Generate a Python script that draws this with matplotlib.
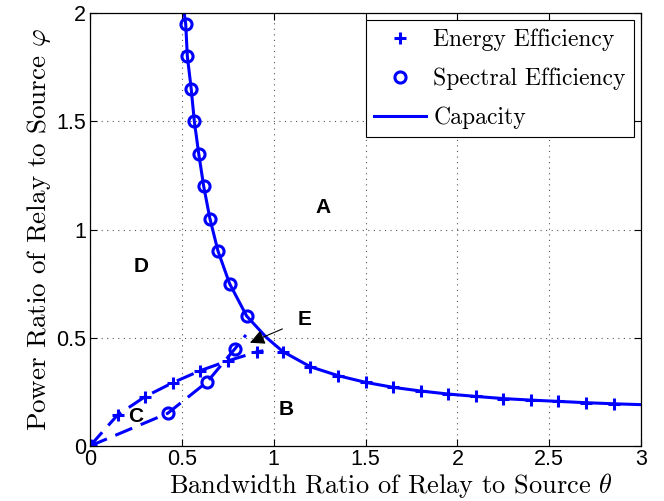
import numpy as np
import matplotlib
matplotlib.use('Agg')
import matplotlib.pyplot as plt

plt.rcParams['mathtext.fontset'] = 'cm'

# capacity boundary, upper branch (circle markers)
cap_up_theta = [0.521, 0.530, 0.551, 0.568, 0.592, 0.619, 0.653, 0.697, 0.760, 0.853]
cap_up_phi = [1.95, 1.80, 1.65, 1.50, 1.35, 1.20, 1.05, 0.90, 0.75, 0.60]
# capacity boundary, right branch (cross markers)
cap_rt_theta = [1.05, 1.20, 1.35, 1.50, 1.65, 1.80, 1.95, 2.10, 2.25, 2.40, 2.55, 2.70, 2.85]
cap_rt_phi = [0.436, 0.366, 0.325, 0.294, 0.271, 0.254, 0.240, 0.229, 0.219, 0.212, 0.206, 0.200, 0.195]
# extra points on the solid line (top edge, junction, right edge)
cap_top = (0.513, 2.0)
cap_mid = (0.962, 0.50)
cap_end = (3.0, 0.191)

# dashed energy efficiency curve
ee_theta = [0.0, 0.15, 0.30, 0.45, 0.60, 0.75, 0.91, 0.944]
ee_phi = [0.0, 0.143, 0.228, 0.292, 0.348, 0.393, 0.435, 0.44]
ee_mark = [0, 1, 2, 3, 4, 5, 6]

# dashed spectral efficiency curve
se_theta = [0.0, 0.423, 0.639, 0.789, 0.849]
se_phi = [0.0, 0.151, 0.297, 0.449, 0.513]
se_mark = [0, 1, 2, 3]

regions = ['A', 'B', 'C', 'D']
region_x = [1.27, 1.07, 0.25, 0.28]
region_y = [1.10, 0.17, 0.135, 0.83]

blue = '#0000ff'
serif = 'cmr10'

fig = plt.figure(figsize=(6.64, 5.01), dpi=100)
ax = fig.add_axes([0.1355, 0.1098, 0.83, 0.8642])

cap_theta = [cap_top[0]] + cap_up_theta + [cap_mid[0]] + cap_rt_theta + [cap_end[0]]
cap_phi = [cap_top[1]] + cap_up_phi + [cap_mid[1]] + cap_rt_phi + [cap_end[1]]
h_cap, = ax.plot(cap_theta, cap_phi, color=blue, lw=2.2, label='Capacity')

ax.plot(ee_theta, ee_phi, color=blue, lw=2.2, dashes=(6, 3))
ax.plot(se_theta, se_phi, color=blue, lw=2.2, dashes=(6, 3))

mk = dict(color=blue, linestyle='none', markeredgewidth=2.2)
h_ee, = ax.plot(cap_rt_theta, cap_rt_phi, marker='+', markersize=9, label='Energy Efficiency', **mk)
ax.plot([ee_theta[i] for i in ee_mark], [ee_phi[i] for i in ee_mark], marker='+', markersize=9, **mk)
h_se, = ax.plot(cap_up_theta, cap_up_phi, marker='o', markersize=8, markerfacecolor='none',
                label='Spectral Efficiency', **mk)
ax.plot([se_theta[i] for i in se_mark], [se_phi[i] for i in se_mark], marker='o', markersize=8,
        markerfacecolor='none', **mk)

for lab, x, y in zip(regions, region_x, region_y):
    ax.text(x, y, lab, fontsize=15, fontweight='bold', family='Liberation Sans',
            ha='center', va='center')

ax.annotate('E', xy=(0.871, 0.477), xytext=(1.17, 0.585), fontsize=15, fontweight='bold',
            family='Liberation Sans', ha='center', va='center',
            arrowprops=dict(arrowstyle='-|>', color='black', lw=0.8, mutation_scale=22,
                            shrinkA=10, shrinkB=0))

ax.set_xlim(0, 3)
ax.set_ylim(0, 2)
ax.set_xticks(np.arange(0, 3.01, 0.5))
ax.set_yticks(np.arange(0, 2.01, 0.5))
ax.set_xticklabels(['0', '0.5', '1', '1.5', '2', '2.5', '3'])
ax.set_yticklabels(['0', '0.5', '1', '1.5', '2'])
ax.tick_params(direction='in', top=True, right=True, length=5, width=0.8, labelsize=15.5, pad=3)
ax.tick_params(axis='x', pad=2)
for t in ax.get_xticklabels() + ax.get_yticklabels():
    t.set_family('Liberation Sans')
ax.grid(True, color='#555555', linestyle=(0, (1, 4)), linewidth=0.8)
for s in ax.spines.values():
    s.set_linewidth(0.9)

ax.set_xlabel(r'Bandwidth Ratio of Relay to Source $\theta$', fontsize=19, family=serif)
ax.xaxis.set_label_coords(0.546, -0.058, transform=ax.transAxes)
ax.xaxis.label.set_va('top')
ax.set_ylabel(r'Power Ratio of Relay to Source $\varphi$', fontsize=19.5, family=serif, labelpad=2)

leg = ax.legend(handles=[h_ee, h_se, h_cap], loc='upper right',
                prop={'family': serif, 'size': 17}, fancybox=False, framealpha=1,
                edgecolor='black', handlelength=2.2, borderaxespad=0.3, labelspacing=0.7,
                handletextpad=0.3, borderpad=0.35)
leg.get_frame().set_linewidth(0.8)

plt.savefig('out.png', dpi=100)
